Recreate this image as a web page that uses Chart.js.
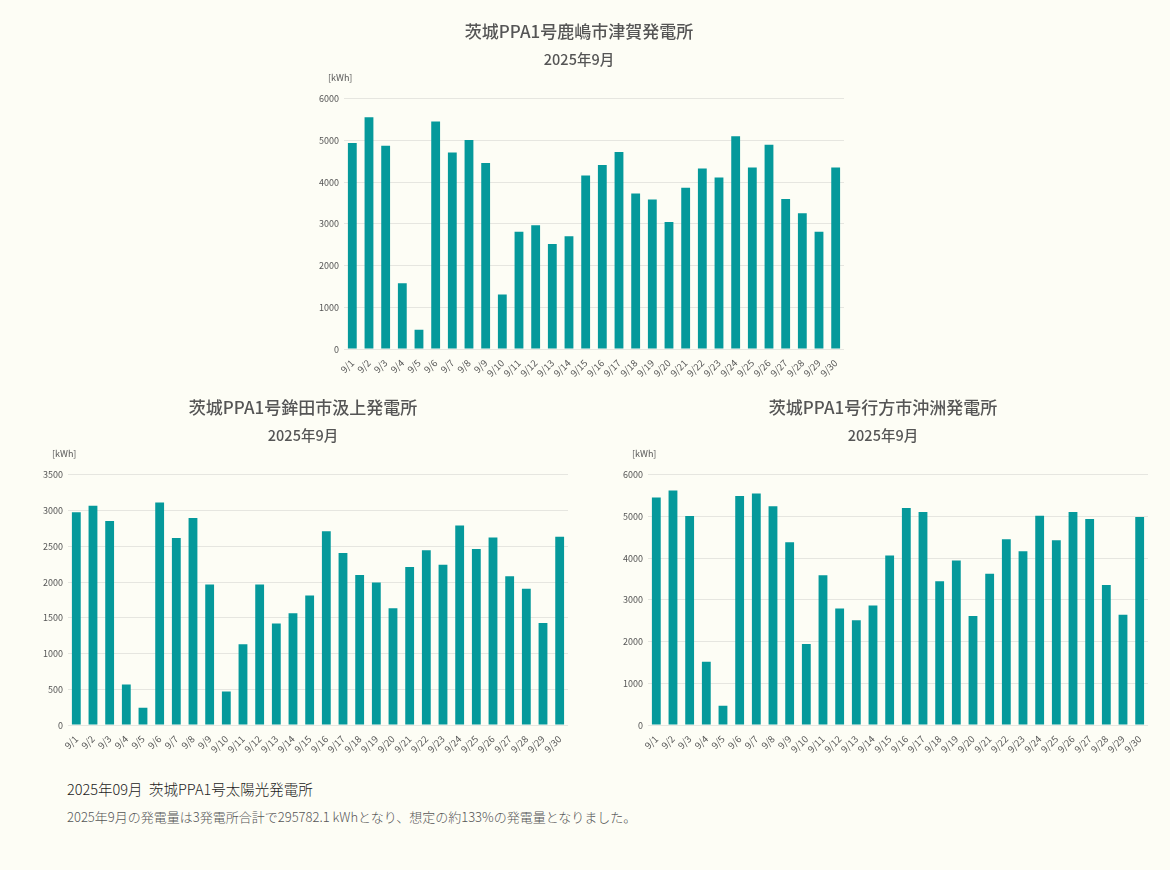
<!DOCTYPE html>
<html>
<head>
<meta charset="utf-8">
<script src="https://cdn.jsdelivr.net/npm/chart.js@4/dist/chart.umd.min.js"></script>
<style>
  body { margin: 0; background: #fdfdf5; width: 1170px; height: 870px; position: relative; overflow: hidden;
         font-family: "Noto Sans CJK JP", "Noto Sans", sans-serif; }
  canvas { position: absolute; }
  #c1 { left: 306px; top: 12px; }
  #c2 { left: 30px; top: 388px; }
  #c3 { left: 610px; top: 388px; }
  .note-head { position: absolute; left: 67px; top: 778px; font-size: 14.5px; color: #222; font-weight: 300; }
  .note-body { position: absolute; left: 67px; top: 807px; font-size: 13px; color: #555; font-weight: 300; }
</style>
</head>
<body>
<canvas id="c1" width="560" height="367"></canvas>
<canvas id="c2" width="560" height="367"></canvas>
<canvas id="c3" width="560" height="367"></canvas>
<div class="note-head">2025年09月&nbsp;&nbsp;茨城PPA1号太陽光発電所</div>
<div class="note-body">2025年9月の発電量は3発電所合計で295782.1 kWhとなり、想定の約133%の発電量となりました。</div>
<script>
let days = [];
for (let d = 1; d <= 30; d++) days.push('9/' + d);

let subtitleText = '2025年9月';

let kashimaName = '茨城PPA1号鹿嶋市津賀発電所';
let kashima = [4940, 5557, 4876, 1580, 465, 5453, 4715, 5012, 4459, 1307,
               2815, 2967, 2518, 2703, 4162, 4411, 4723, 3729, 3585, 3047,
               3865, 4330, 4114, 5100, 4354, 4900, 3601, 3256, 2815, 4354];

let hokotaName = '茨城PPA1号鉾田市汲上発電所';
let hokota = [2975, 3069, 2853, 568, 244, 3111, 2618, 2895, 1966, 469,
              1131, 1966, 1422, 1563, 1811, 2712, 2407, 2098, 1994, 1633,
              2210, 2445, 2243, 2792, 2464, 2623, 2083, 1905, 1427, 2633];

let namegataName = '茨城PPA1号行方市沖洲発電所';
let namegata = [5454, 5622, 5012, 1518, 466, 5494, 5550, 5245, 4386, 1944,
                3590, 2795, 2514, 2867, 4064, 5205, 5108, 3446, 3944, 2618,
                3631, 4458, 4169, 5020, 4434, 5108, 4940, 3357, 2643, 4988];

let barColor = '#05999b';
let fontFamily = '"Noto Sans CJK JP", "Noto Sans", sans-serif';

// draws the [kWh] unit above the y axis
let unitLabel = {
  id: 'unitLabel',
  afterDraw(chart) {
    let ctx = chart.ctx;
    ctx.save();
    ctx.font = '9px ' + fontFamily;
    ctx.fillStyle = '#555';
    ctx.textAlign = 'left';
    ctx.textBaseline = 'middle';
    ctx.fillText('[kWh]', chart.chartArea.left - 16, chart.chartArea.top - 21);
    ctx.restore();
  }
};

let makeChart = (id, name, values, max, step) => {
  new Chart(document.getElementById(id), {
    type: 'bar',
    data: {
      labels: days,
      datasets: [{
        label: name,
        data: values,
        backgroundColor: barColor,
        barPercentage: 0.53,
        categoryPercentage: 1.0,
      }],
    },
    options: {
      responsive: false,
      animation: false,
      layout: { padding: { left: 8, right: 22, top: 0, bottom: 0 } },
      plugins: {
        legend: { display: false },
        tooltip: { enabled: false },
        title: {
          display: true,
          text: name,
          color: '#555',
          font: { family: fontFamily, size: 17, weight: '500' },
          padding: { top: 9, bottom: 8 },
        },
        subtitle: {
          display: true,
          text: subtitleText,
          color: '#555',
          font: { family: fontFamily, size: 14.5, weight: '500' },
          padding: { top: 1, bottom: 31 },
        },
      },
      scales: {
        x: {
          grid: { display: false },
          border: { display: false },
          ticks: {
            color: '#555',
            font: { family: fontFamily, size: 9.5 },
            minRotation: 45,
            maxRotation: 45,
            autoSkip: false,
            padding: 0,
          },
        },
        y: {
          min: 0,
          max: max,
          grid: { color: '#e6e6e0', drawTicks: false },
          border: { display: false },
          ticks: {
            stepSize: step,
            color: '#555',
            font: { family: fontFamily, size: 9 },
            padding: 5,
            callback: value => String(value),
          },
        },
      },
    },
    plugins: [unitLabel],
  });
};

makeChart('c1', kashimaName, kashima, 6000, 1000);
makeChart('c2', hokotaName, hokota, 3500, 500);
makeChart('c3', namegataName, namegata, 6000, 1000);
</script>
</body>
</html>
